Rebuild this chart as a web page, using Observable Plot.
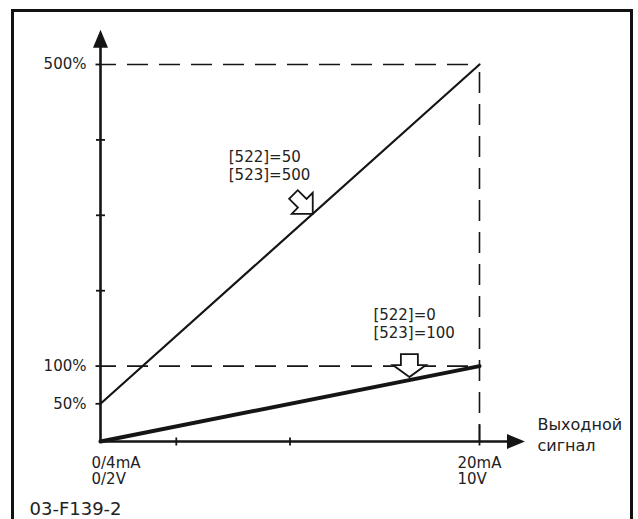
<!DOCTYPE html>
<html>
<head>
<meta charset="utf-8">
<script src="https://cdn.jsdelivr.net/npm/d3@7"></script>
<script src="https://cdn.jsdelivr.net/npm/@observablehq/plot@0.6"></script>
<style>
  html, body { margin: 0; padding: 0; overflow: hidden; background: #fff; }
  #wrap { position: relative; width: 638px; height: 519px; overflow: hidden; }
  #frame { position: absolute; left: 11px; top: 9px; width: 622px; height: 530px; border: 3px solid #111; box-sizing: border-box; }
  #chart { position: absolute; left: 0; top: 0; }
</style>
</head>
<body>
<div id="wrap"><div id="frame"></div><div id="chart"></div></div>
<script>
// ---- data ----
const xDomain = [0, 20];            // input signal span (0/4mA .. 20mA)
const yDomain = [0, 500];           // percent
const seriesX = [0, 20];
const line1Y = [50, 500];           // [522]=50, [523]=500
const line2Y = [0, 100];            // [522]=0,  [523]=100
const refLevels = [100, 500];       // dashed horizontal references
const refX = [20];                  // dashed vertical reference
const yLabeledTicks = [50, 100, 500];
const yMinorTicks = [200, 300, 400];
const xMinorTicks = [4, 10];
const xEndTick = [20];
const axisEndX = 22.4;              // x-axis arrow tip
const axisEndY = 546;               // y-axis arrow tip
const xStartLabel = ["0/4mA", "0/2V"];
const xEndLabel = ["20mA", "10V"];
const axisTitle = ["Выходной", "сигнал"];
const annX = [11.2, 16.3];
const annY = [302, 81.5];
const annText = ["[522]=50\n[523]=500", "[522]=0\n[523]=100"];
const figId = "03-F139-2";

// ---- glyph symbols ----
const sym = (pts) => ({draw(ctx) { ctx.moveTo(pts[0][0], pts[0][1]); for (const p of pts.slice(1)) ctx.lineTo(p[0], p[1]); ctx.closePath(); }});
const seg = (a, b) => ({draw(ctx) { ctx.moveTo(a[0], a[1]); ctx.lineTo(b[0], b[1]); }});
const headUp = sym([[0,0],[-7.5,18],[7.5,18]]);
const headRight = sym([[0,0],[-18,-7.5],[-18,7.5]]);
const tickLeft = seg([-5,0],[0,0]);
const tickCross = seg([-4.5,0],[4.5,0]);
const tickCrossV = seg([0,-4],[0,4]);
const tickEndV = seg([0,-17],[0,4]);
const arrowDown = sym([[0,-3],[-16.5,-15],[-8.5,-15],[-8.5,-26],[8.5,-26],[8.5,-15],[16.5,-15]]);
const arrowDiag = sym([[0,0],[0,-21],[-6.2,-14.8],[-15,-23.6],[-23.6,-15],[-14.8,-6.2],[-21,0]]);

const pts = (xs, ys) => xs.map((x, i) => ({x, y: ys[i]}));
const ink = "#151515";
const txt = "#222";

const plot = Plot.plot({
  width: 638, height: 519,
  marginLeft: 100, marginRight: 159, marginTop: 64, marginBottom: 78,
  x: {domain: xDomain, axis: null},
  y: {domain: yDomain, axis: null},
  style: {fontFamily: "'DejaVu Sans', sans-serif", fontSize: "15px", overflow: "visible", background: "transparent"},
  marks: [
    // dashed references
    Plot.ruleY(refLevels, {x1: 0, x2: 20, stroke: ink, strokeWidth: 1.6, strokeDasharray: "21,11", strokeDashoffset: 5}),
    Plot.ruleX(refX, {y1: 500, y2: 0, stroke: ink, strokeWidth: 1.6, strokeDasharray: "21,11", strokeDashoffset: 24}),
    // axes
    Plot.ruleX([0], {y1: 0, y2: axisEndY - 10, stroke: ink, strokeWidth: 2.6}),
    Plot.ruleY([0], {x1: 0, x2: axisEndX - 0.5, stroke: ink, strokeWidth: 2.6}),
    Plot.dot([{x: 0, y: axisEndY}], {x: "x", y: "y", r: 5, symbol: headUp, fill: ink, stroke: "none"}),
    Plot.dot([{x: axisEndX, y: 0}], {x: "x", y: "y", r: 5, symbol: headRight, fill: ink, stroke: "none"}),
    // ticks
    Plot.dot(yLabeledTicks, {x: 0, y: d => d, r: 5, symbol: tickLeft, fill: "none", stroke: ink, strokeWidth: 1.8}),
    Plot.dot(yMinorTicks, {x: 0, y: d => d, r: 5, symbol: tickCross, fill: "none", stroke: ink, strokeWidth: 1.8}),
    Plot.dot(xMinorTicks, {x: d => d, y: 0, r: 5, symbol: tickCrossV, fill: "none", stroke: ink, strokeWidth: 1.8}),
    Plot.dot(xEndTick, {x: d => d, y: 0, r: 5, symbol: tickEndV, fill: "none", stroke: ink, strokeWidth: 1.8}),
    // series
    Plot.line(pts(seriesX, line1Y), {x: "x", y: "y", stroke: ink, strokeWidth: 2.2}),
    Plot.line(pts(seriesX, line2Y), {x: "x", y: "y", stroke: ink, strokeWidth: 4}),
    // annotation arrows
    Plot.dot([{x: annX[0], y: annY[0]}], {x: "x", y: "y", r: 5, symbol: arrowDiag, fill: "white", stroke: ink, strokeWidth: 1.8}),
    Plot.dot([{x: annX[1], y: annY[1]}], {x: "x", y: "y", r: 5, symbol: arrowDown, fill: "white", stroke: ink, strokeWidth: 1.8}),
    // annotation labels
    Plot.text([{x: annX[0], y: annY[0], t: annText[0]}], {x: "x", y: "y", text: "t", textAnchor: "start", lineAnchor: "top", lineHeight: 1.2, dx: -84, dy: -65, fill: txt}),
    Plot.text([{x: annX[1], y: annY[1], t: annText[1]}], {x: "x", y: "y", text: "t", textAnchor: "start", lineAnchor: "top", lineHeight: 1.2, dx: -36, dy: -73, fill: txt}),
    // y tick labels
    Plot.text(yLabeledTicks, {x: 0, y: d => d, text: d => d + "%", textAnchor: "end", dx: -14, fill: txt}),
    // x end labels
    Plot.text([xStartLabel.join("\n")], {x: 0, y: 0, text: d => d, textAnchor: "start", lineAnchor: "top", lineHeight: 1.13, dx: -9, dy: 14, fill: txt}),
    Plot.text([xEndLabel.join("\n")], {x: 20, y: 0, text: d => d, textAnchor: "start", lineAnchor: "top", lineHeight: 1.13, dx: -22, dy: 14, fill: txt}),
    // axis title
    Plot.text([axisTitle[0]], {x: 20, y: 0, text: d => d, textAnchor: "start", dx: 58, dy: -17, fontSize: 16, fill: txt}),
    Plot.text([axisTitle[1]], {x: 20, y: 0, text: d => d, textAnchor: "start", dx: 58, dy: 4, fontSize: 16, fill: txt}),
    // figure id
    Plot.text([figId], {x: 0, y: 0, text: d => d, textAnchor: "start", dx: -71, dy: 68, fontSize: 18, fill: txt})
  ]
});
document.getElementById("chart").appendChild(plot);
</script>
</body>
</html>
